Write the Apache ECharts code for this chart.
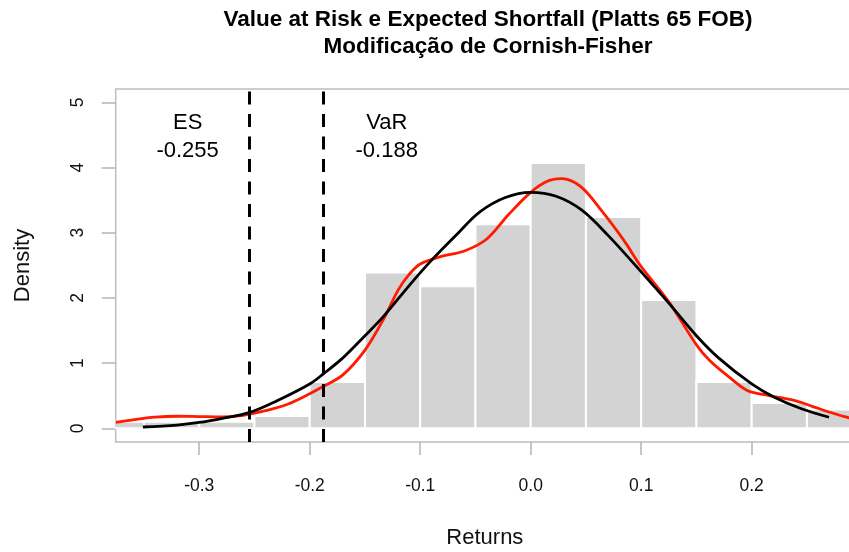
<!DOCTYPE html>
<html>
<head>
<meta charset="utf-8">
<script src="https://cdn.jsdelivr.net/npm/echarts@6/dist/echarts.min.js"></script>
<style>html,body{margin:0;padding:0;background:#fff}#c{width:849px;height:552px}</style>
</head>
<body>
<div id="c"></div>
<script>
// ---- data ----
var binLeft  = [-0.40, -0.35, -0.30, -0.25, -0.20, -0.15, -0.10, -0.05, 0.00, 0.05, 0.10, 0.15, 0.20, 0.25];
var binRight = [-0.35, -0.30, -0.25, -0.20, -0.15, -0.10, -0.05, 0.00, 0.05, 0.10, 0.15, 0.20, 0.25, 0.30];
var density  = [0.10, 0.10, 0.10, 0.19, 0.71, 2.39, 2.18, 3.13, 4.07, 3.24, 1.97, 0.71, 0.39, 0.29];

var kdeX = [-0.3756, -0.36, -0.34, -0.32, -0.30, -0.28, -0.26, -0.24, -0.22, -0.20, -0.188, -0.17, -0.15, -0.133, -0.12, -0.11, -0.10, -0.08, -0.06, -0.04, -0.02, 0.00, 0.015, 0.028, 0.045, 0.065, 0.084, 0.10, 0.125, 0.15, 0.162, 0.18, 0.196, 0.21, 0.226, 0.24, 0.256, 0.27, 0.288, 0.2926];
var kdeY = [0.09, 0.13, 0.17, 0.185, 0.18, 0.175, 0.20, 0.27, 0.37, 0.53, 0.64, 0.82, 1.20, 1.68, 2.12, 2.36, 2.52, 2.64, 2.72, 2.90, 3.28, 3.62, 3.79, 3.83, 3.71, 3.32, 2.89, 2.48, 1.94, 1.28, 1.04, 0.78, 0.58, 0.52, 0.47, 0.42, 0.33, 0.25, 0.16, 0.14];

var normX = [-0.351, -0.32, -0.30, -0.28, -0.255, -0.23, -0.20, -0.188, -0.17, -0.15, -0.133, -0.11, -0.088, -0.066, -0.046, -0.023, 0.00, 0.023, 0.046, 0.07, 0.10, 0.125, 0.15, 0.17, 0.20, 0.22, 0.245, 0.27];
var normY = [0.02, 0.05, 0.09, 0.15, 0.24, 0.42, 0.68, 0.83, 1.08, 1.42, 1.72, 2.19, 2.61, 2.99, 3.32, 3.54, 3.62, 3.56, 3.35, 2.96, 2.40, 1.92, 1.42, 1.08, 0.68, 0.48, 0.30, 0.17];

var riskLines = [-0.255, -0.188];
var annoText = ['ES', '-0.255', 'VaR', '-0.188'];
var annoX = [-0.3105, -0.3105, -0.1303, -0.1303];
var annoY = [4.68, 4.26, 4.68, 4.26];

var xTicks = [-0.3, -0.2, -0.1, 0.0, 0.1, 0.2];
var yTicks = [0, 1, 2, 3, 4, 5];

var titleText = 'Value at Risk e Expected Shortfall (Platts 65 FOB)\nModificação de Cornish-Fisher';

// ---- chart ----
var FONT = 'Liberation Sans, Arial, Helvetica, sans-serif';
var chart = echarts.init(document.getElementById('c'), null, {renderer: 'canvas'});

function zip(a, b) { return a.map(function (v, i) { return [v, b[i]]; }); }

var barData = binLeft.map(function (l, i) { return [l, binRight[i], density[i]]; });
var annoData = annoText.map(function (t, i) { return {name: t, value: [annoX[i], annoY[i]]}; });

chart.setOption({
  animation: false,
  backgroundColor: '#ffffff',
  title: {
    text: titleText,
    left: 488, top: 6, textAlign: 'center', padding: 0,
    textStyle: {fontFamily: FONT, fontSize: 22.5, fontWeight: 'bold', color: '#000', lineHeight: 27}
  },
  grid: {left: 115.7, top: 89, right: -5, bottom: 110, outerBoundsMode: 'none', containLabel: false,
    show: true, borderColor: '#bdbdbd', borderWidth: 1.5, backgroundColor: 'transparent'},
  xAxis: {
    type: 'value', min: -0.3756, max: 0.2926,
    name: 'Returns', nameLocation: 'middle', nameGap: 85,
    nameTextStyle: {fontFamily: FONT, fontSize: 22, color: '#111'},
    axisLine: {show: false, onZero: false},
    splitLine: {show: false},
    axisTick: {show: true, inside: false, length: 13, customValues: xTicks, lineStyle: {color: '#b5b5b5', width: 1.5}},
    axisLabel: {customValues: xTicks, margin: 35, fontFamily: FONT, fontSize: 17.5, color: '#111',
      formatter: function (v) { return v.toFixed(1); }}
  },
  yAxis: {
    type: 'value', min: -0.21, max: 5.205,
    name: 'Density', nameLocation: 'middle', nameGap: 82,
    nameTextStyle: {fontFamily: FONT, fontSize: 22, color: '#111'},
    axisLine: {show: false, onZero: false},
    splitLine: {show: false},
    axisTick: {show: true, inside: false, length: 14, customValues: yTicks, lineStyle: {color: '#b5b5b5', width: 1.5}},
    axisLabel: {customValues: yTicks, rotate: 90, margin: 29, fontFamily: FONT, fontSize: 17.5, color: '#111',
      formatter: function (v) { return String(v); }}
  },
  series: [
    {
      type: 'custom', z: 1, clip: true,
      data: barData,
      encode: {x: [0, 1], y: 2},
      renderItem: function (params, api) {
        var p0 = api.coord([api.value(0), api.value(2)]);
        var p1 = api.coord([api.value(1), 0]);
        return {
          type: 'rect',
          shape: {x: p0[0], y: p0[1], width: p1[0] - p0[0], height: p1[1] - p0[1]},
          style: {fill: '#d3d3d3', stroke: '#ffffff', lineWidth: 2}
        };
      }
    },
    {
      type: 'line', z: 2, data: [], silent: true,
      markLine: {
        symbol: 'none', silent: true, precision: 6,
        label: {show: false},
        lineStyle: {color: '#000', width: 3, type: [13, 9.5]},
        data: riskLines.map(function (v) { return {xAxis: v}; })
      }
    },
    {
      type: 'line', z: 3, data: zip(kdeX, kdeY), smooth: 0.35, showSymbol: false, clip: true,
      lineStyle: {color: '#ff1a00', width: 2.8}
    },
    {
      type: 'line', z: 4, data: zip(normX, normY), smooth: 0.35, showSymbol: false, clip: true,
      lineStyle: {color: '#000', width: 2.8}
    },
    {
      type: 'scatter', z: 5, symbolSize: 0, data: annoData,
      itemStyle: {opacity: 1},
      label: {show: true, position: 'inside', formatter: '{b}', fontFamily: FONT, fontSize: 22, color: '#000', opacity: 1}
    }
  ]
});
</script>
</body>
</html>
